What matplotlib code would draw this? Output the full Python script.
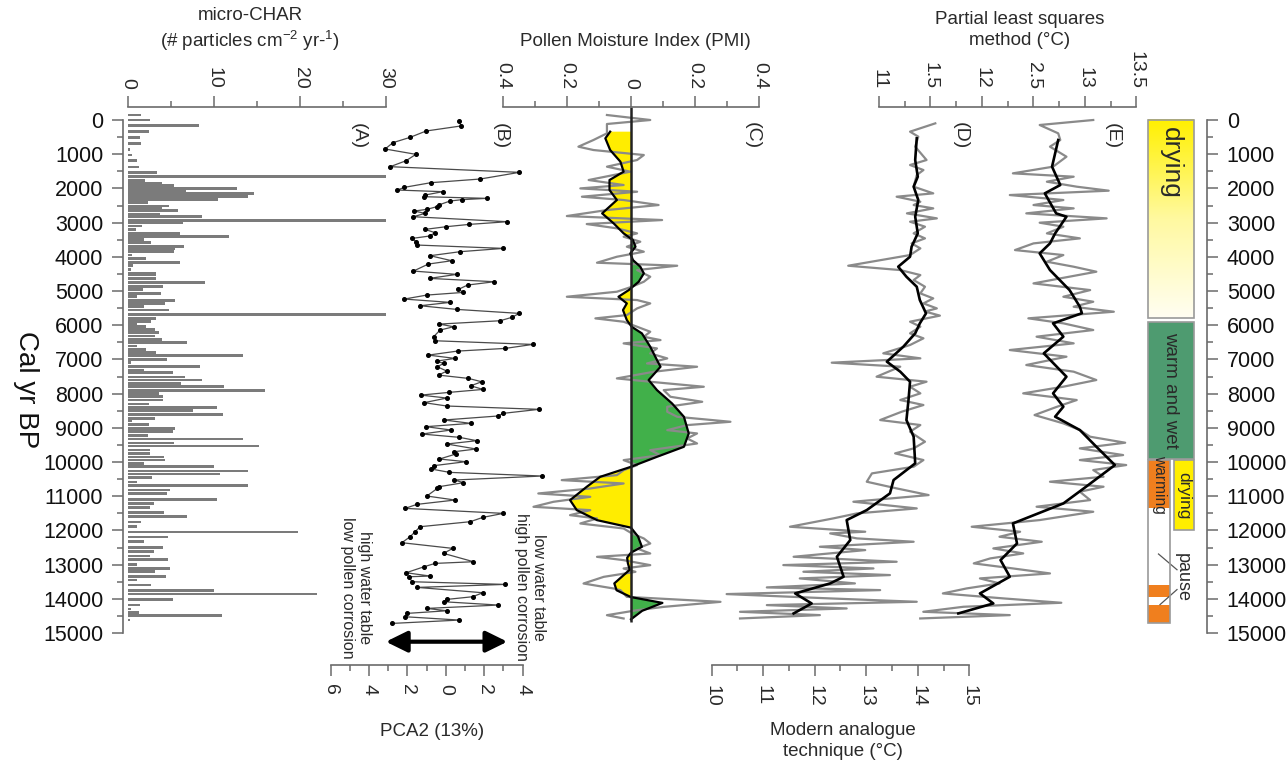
import numpy as np
import matplotlib.pyplot as plt
from matplotlib.colors import LinearSegmentedColormap
from matplotlib.patches import Rectangle, FancyArrowPatch

plt.rcParams['font.family'] = ['Liberation Sans', 'DejaVu Sans']
plt.rcParams['mathtext.fontset'] = 'custom'
plt.rcParams['mathtext.rm'] = 'Liberation Sans'

# ---------------- data (ages in cal yr BP) ----------------
char_age = [-150, 0, 170, 340, 510, 680, 860, 1020, 1190, 1370, 1540, 1660, 1760, 1850, 1920,
            2000, 2080, 2150, 2240, 2320, 2420, 2510, 2580, 2650, 2750, 2830, 2930, 3000, 3100,
            3200, 3320, 3410, 3490, 3590, 3690, 3750, 3850, 3950, 4050, 4160, 4260, 4370, 4470,
            4530, 4630, 4760, 4860, 4950, 5070, 5170, 5270, 5360, 5460, 5560, 5680, 5800, 5890,
            5960, 6040, 6120, 6210, 6320, 6410, 6510, 6610, 6710, 6800, 6880, 7000, 7100, 7210,
            7310, 7390, 7510, 7600, 7700, 7800, 7900, 7990, 8090, 8190, 8300, 8400, 8500, 8610,
            8720, 8800, 8900, 9020, 9110, 9230, 9330, 9440, 9530, 9650, 9750, 9850, 9940, 10040,
            10140, 10260, 10350, 10450, 10580, 10690, 10820, 10920, 11090, 11210, 11330, 11470,
            11600, 11750, 11890, 12050, 12190, 12330, 12500, 12620, 12750, 12850, 12990, 13110,
            13210, 13340, 13450, 13600, 13750, 13860, 14020, 14180, 14300, 14410, 14480, 14620]
char_val = [1.5, 2.6, 8.3, 2.4, 1.4, 1.5, 0.2, 0.5, 1.1, 1.3, 3.4, 30, 2.0, 4.0, 5.3,
            12.7, 6.7, 14.6, 14.0, 10.5, 2.3, 4.8, 4.0, 5.8, 3.7, 8.6, 30, 6.4, 1.6,
            0.9, 6.0, 11.7, 1.8, 2.7, 6.5, 5.5, 5.3, 0.5, 2.1, 6.1, 0.6, 0.3, 3.3,
            3.3, 3.2, 8.9, 4.1, 1.7, 3.8, 1.0, 5.5, 4.3, 1.9, 4.8, 30, 3.3, 2.7,
            1.0, 2.1, 3.1, 3.6, 3.1, 4.0, 6.9, 1.0, 2.1, 3.2, 13.4, 4.5, 0.3, 8.4,
            1.9, 5.2, 6.6, 8.6, 6.2, 11.2, 15.9, 3.6, 4.1, 4.1, 2.4, 10.3, 7.6, 11.0,
            3.1, 0.5, 2.4, 5.5, 5.2, 2.3, 13.4, 5.3, 15.2, 2.5, 2.5, 4.2, 4.3, 1.8,
            10.0, 14.0, 10.7, 2.8, 1.1, 14.0, 4.9, 4.5, 10.3, 3.0, 2.5, 4.2,
            6.9, 1.5, 1.0, 19.8, 4.7, 1.8, 4.1, 3.0, 2.5, 4.7, 1.0, 4.9,
            3.1, 4.4, 1.0, 2.7, 10.0, 22.0, 5.2, 1.4, 0.4, 1.3, 10.9, 0.2]

pca_age = [20, 175, 322, 507, 663, 848, 1004, 1190, 1365, 1531, 1726, 1833, 1970, 2048, 2096,
           2194, 2243, 2291, 2330, 2369, 2486, 2535, 2613, 2662, 2730, 2828, 2974, 3052, 3120,
           3198, 3296, 3393, 3461, 3559, 3656, 3754, 3851, 3968, 4115, 4212, 4417, 4514, 4631,
           4729, 4826, 4953, 5041, 5119, 5236, 5333, 5431, 5538, 5655, 5772, 5870, 5967, 6045,
           6143, 6338, 6455, 6562, 6679, 6757, 6874, 6971, 7049, 7118, 7215, 7342, 7459, 7556,
           7654, 7771, 7878, 7966, 8044, 8130, 8265, 8363, 8460, 8577, 8655, 8772, 8870, 8967,
           9065, 9182, 9279, 9377, 9474, 9620, 9698, 9767, 9913, 9991, 10108, 10205, 10303,
           10410, 10527, 10605, 10722, 10771, 10995, 11112, 11239, 11356, 11502, 11619, 11746,
           11892, 12038, 12184, 12360, 12526, 12672, 12916, 12965, 13062, 13238, 13335, 13355,
           13501, 13579, 13667, 13823, 13940, 14018, 14086, 14183, 14281, 14350, 14427, 14525,
           14622, 14720]
pca_val = [0.71, 0.78, -1.03, -1.86, -2.76, -3.16, -1.56, -2.07, -2.90, 3.83, 1.79, -0.78, -2.17, -2.52, -0.16,
           -1.08, -1.13, 2.13, 0.83, 0.22, -0.38, -0.47, -0.99, -1.65, -1.08, -1.69, 3.21, 1.23, 0.02,
           -1.08, -0.56, -0.85, -1.74, -1.56, -1.51, 3.00, 0.74, -0.82, 0.31, -0.91, -1.69, 0.57, -0.85,
           2.53, 1.13, 0.66, 0.92, -0.99, -2.17, 0.22, -1.34, 0.57, 3.83, 3.43, 2.83, -0.33, 0.40,
           -0.30, -0.64, -0.56, 4.53, 3.09, 0.61, -0.91, 0.48, -0.47, -0.12, -0.44, 0.05, -0.38, 1.18,
           1.87, 1.30, 1.93, 0.14, -1.30, 0.05, -1.13, 0.05, 4.86, 3.00, 2.71, -0.09, 1.30, -1.03,
           0.27, -1.25, 0.71, 1.61, 0.05, 1.58, 0.45, 0.52, -0.33, 1.04, -0.64, -0.76, 0.19,
           5.03, 0.45, 0.92, -0.35, -0.44, -0.99, 0.48, -1.51, -2.12, 3.00, 1.93, 1.27,
           -1.34, -1.60, -1.86, -2.29, 0.36, -0.12, 1.44, -0.56, -1.13, -2.07, -0.82, -1.90,
           -1.77, 3.09, -1.48, 1.93, 1.39, 0.05, -0.12, 2.74, -0.99, 0.05, -2.03, -2.12,
           0.71, -2.81]

pmi_age = [-146, 0, 117, 390, 585, 780, 878, 1024, 1170, 1365, 1511, 1755, 1901, 2000, 2097,
           2243, 2340, 2486, 2633, 2808, 2925, 3042, 3168, 3315, 3413, 3559, 3705, 3851, 3998,
           4173, 4261, 4388, 4583, 4729, 4875, 5021, 5168, 5265, 5363, 5509, 5704, 5801, 5899,
           6045, 6191, 6338, 6435, 6532, 6679, 6825, 6971, 7118, 7215, 7361, 7556, 7654, 7800,
           7898, 8093, 8239, 8385, 8532, 8678, 8824, 8921, 9068, 9165, 9311, 9458, 9653, 9799,
           9945, 10091, 10238, 10384, 10530, 10628, 10774, 10920, 11018, 11164, 11310, 11408,
           11554, 11651, 11798, 11944, 12090, 12236, 12383, 12529, 12675, 12773, 12870, 13016,
           13114, 13211, 13358, 13553, 13699, 13748, 13943, 14089, 14236, 14333, 14479, 14576]
pmi_val = [-0.075, 0.060, -0.075, -0.075, -0.117, -0.164, -0.117, 0.040, 0.019, -0.075, -0.002, -0.132, -0.023, -0.158, 0.019,
           -0.153, -0.023, 0.086, -0.075, -0.200, 0.097, -0.138, -0.044, 0.019, -0.023, 0.029, -0.013, 0.040, -0.044,
           -0.106, 0.144, 0.019, 0.060, 0.040, 0.003, -0.044, -0.200, 0.019, 0.060, 0.019, -0.013, -0.111, -0.023,
           0.019, 0.060, 0.040, 0.092, -0.023, 0.081, 0.060, 0.113, 0.050, 0.206, 0.071, -0.044, 0.060, 0.227,
           0.102, 0.123, 0.222, 0.113, 0.113, 0.144, 0.310, 0.175, 0.113, 0.206, 0.175, 0.206, 0.060, 0.092,
           -0.023, 0.019, -0.023, -0.044, -0.216, -0.023, -0.127, -0.289, -0.127, -0.242, -0.304, -0.127,
           -0.190, -0.106, -0.158, -0.023, 0.003, 0.040, 0.060, 0.019, 0.060, -0.106, -0.023, 0.060,
           -0.023, 0.014, -0.085, -0.148, -0.054, -0.033, -0.013, 0.279, 0.102, 0.019, -0.075, -0.023]

pmi_sm_age = [341, 536, 878, 1219, 1511, 1755, 2048, 2340, 2730, 3023, 3315, 3510, 3705, 3900, 4095,
              4290, 4485, 4729, 4973, 5168, 5363, 5558, 5850, 6045, 6240, 6630, 7020, 7215, 7605,
              7898, 8288, 8678, 9165, 9555, 9848, 10140, 10433, 10725, 11115, 11408, 11700, 11920,
              12180, 12480, 12650, 12800, 12950, 13150, 13300, 13550, 13750, 13950, 14120, 14350, 14600]
pmi_sm_val = [-0.065, -0.080, -0.065, -0.033, -0.023, -0.067, -0.067, -0.044, -0.090, -0.054, -0.023, 0.006, 0.014, -0.002, 0.006,
              0.029, 0.040, 0.024, -0.007, -0.039, -0.013, -0.025, -0.013, 0.002, 0.034, 0.060, 0.081, 0.092, 0.055,
              0.081, 0.128, 0.165, 0.180, 0.165, 0.081, 0.0, -0.096, -0.138, -0.190, -0.169, -0.106, 0.0,
              0.022, 0.034, 0.0, -0.012, -0.010, -0.004, -0.022, -0.052, -0.045, 0.0, 0.098, 0.035, 0.0]

mat_age = [98, 341, 487, 780, 1170, 1316, 1463, 1609, 1950, 2145, 2243, 2389, 2486, 2584, 2730,
           2876, 2974, 3120, 3315, 3461, 3608, 3754, 3949, 4261, 4388, 4534, 4680, 4875, 5070,
           5216, 5363, 5509, 5600, 5720, 5897, 6043, 6238, 6384, 6579, 6823, 6969, 7096, 7213,
           7506, 7652, 7798, 7993, 8188, 8334, 8529, 8773, 8919, 9114, 9407, 9602, 9748, 9943,
           10138, 10333, 10577, 10772, 10967, 11162, 11357, 11503, 11649, 11893, 12039, 12088,
           12234, 12332, 12478, 12576, 12771, 12917, 13014, 13112, 13209, 13306, 13404, 13550,
           13667, 13746, 13862, 13989, 14087, 14184, 14282, 14380, 14477, 14575]
mat_val = [14.34, 13.85, 14.01, 13.95, 14.17, 13.85, 14.11, 13.98, 13.92, 14.30, 13.59, 14.05, 13.92, 14.30, 13.79,
           14.37, 13.85, 14.14, 13.92, 14.14, 13.88, 14.05, 13.85, 12.65, 13.66, 14.05, 13.92, 14.14, 14.05,
           14.30, 14.11, 14.37, 14.14, 14.43, 13.85, 14.05, 13.85, 14.11, 13.85, 13.33, 14.05, 12.33, 13.66,
           13.20, 14.17, 13.85, 14.05, 13.66, 14.11, 13.69, 13.27, 14.05, 13.85, 14.14, 13.92, 13.56, 14.11,
           13.92, 13.11, 13.01, 13.59, 14.21, 12.75, 13.98, 12.82, 12.36, 11.52, 12.98, 12.30,
           12.82, 13.92, 12.10, 12.98, 11.59, 13.59, 11.39, 13.14, 11.78, 13.46, 11.71, 12.78,
           11.07, 13.27, 10.29, 12.30, 13.98, 11.07, 12.62, 10.55, 12.10, 10.55]
mat_sm_age = [536, 1170, 1658, 1950, 2340, 2828, 3315, 3705, 3998, 4290, 4583, 4875, 5265, 5653, 5946,
              6238, 6628, 7067, 7359, 7652, 8188, 8773, 9260, 10040, 10528, 10918, 11406, 11698, 12283,
              12770, 13355, 13550, 13843, 14136, 14428]
mat_sm_val = [13.98, 13.95, 14.00, 13.92, 14.01, 13.95, 14.00, 13.88, 13.85, 13.62, 13.78, 13.98, 14.04, 14.16, 14.04,
              13.95, 13.72, 13.40, 13.66, 13.85, 13.82, 13.78, 13.92, 13.95, 13.53, 13.46, 13.01, 12.62, 12.69,
              12.43, 12.56, 12.30, 11.62, 11.94, 11.59]

pls_age = [0, 146, 390, 585, 780, 1073, 1365, 1560, 1658, 1804, 1950, 2067, 2194, 2340, 2486, 2584,
           2730, 2876, 3003, 3120, 3315, 3461, 3608, 3803, 3949, 4144, 4290, 4436, 4631, 4778, 4973,
           5168, 5314, 5460, 5606, 5799, 5946, 6141, 6336, 6531, 6726, 6921, 7164, 7359, 7603, 7798,
           7993, 8188, 8383, 8627, 8871, 9066, 9261, 9436, 9602, 9797, 9943, 10089, 10236, 10431,
           10577, 10723, 10869, 11113, 11308, 11455, 11698, 11893, 12039, 12186, 12332, 12527, 12673,
           12819, 12965, 13112, 13258, 13404, 13550, 13697, 13843, 13989, 14116, 14233, 14380, 14477, 14575]
pls_val = [13.08, 12.56, 12.74, 12.76, 12.66, 12.82, 12.69, 12.30, 12.89, 12.63, 12.92, 13.23, 12.27, 12.79, 12.50, 12.89,
           12.43, 13.21, 12.56, 12.79, 12.63, 12.95, 12.50, 12.32, 12.79, 12.63, 12.89, 13.11, 12.76, 12.50, 13.05,
           12.79, 13.08, 12.89, 13.28, 12.45, 12.79, 13.08, 12.53, 12.89, 12.27, 12.82, 12.43, 12.89, 13.11, 12.79,
           12.40, 12.92, 12.73, 12.51, 12.79, 12.95, 13.05, 13.39, 12.95, 13.37, 12.95, 13.40, 13.08, 13.18,
           12.66, 13.18, 12.95, 13.05, 12.53, 13.08, 12.56, 11.90, 12.37, 12.17, 12.58, 12.11, 12.40,
           12.08, 11.92, 12.30, 12.66, 11.98, 12.17, 11.85, 11.62, 12.21, 12.77, 11.82, 11.43, 12.27, 11.40]
pls_sm_age = [585, 1365, 1901, 2145, 2730, 2828, 3315, 3608, 3900, 4388, 4973, 5460, 5650, 5946, 6335,
              6823, 7506, 7993, 8383, 8675, 9065, 9553, 10089, 10723, 11211, 11796, 12381, 12868, 13355,
              13843, 14136, 14428]
pls_sm_val = [12.74, 12.68, 12.76, 12.61, 12.72, 12.82, 12.71, 12.66, 12.56, 12.66, 12.85, 12.95, 12.97, 12.69, 12.79,
              12.60, 12.82, 12.69, 12.79, 12.71, 12.95, 13.11, 13.29, 13.01, 12.79, 12.30, 12.34, 12.18, 12.27,
              11.98, 12.11, 11.77]

# climate phases (right-hand column)
zone_label = ['drying', 'warm and wet']
zone_start = [0, 5900]
zone_end = [5800, 9900]
warming_start = [9950, 13600, 14180]
warming_end = [11350, 13950, 14700]
late_drying = (9950, 12000)

# ---------------- layout (pixels of a 1288 x 765 canvas) ----------------
W, H = 1288, 765
Y_TOP, Y_BOT = 107, 664.5
PX_PER_KYR = 34.2
AGE0_PX = 120
AGE_TOP = (Y_TOP - AGE0_PX) / PX_PER_KYR * 1000
AGE_BOT = (Y_BOT - AGE0_PX) / PX_PER_KYR * 1000
AX_C = '#6b6b6b'
TXT = '#2a2a2a'

fig = plt.figure(figsize=(W / 100, H / 100), dpi=100)


def make_ax(left, right):
    ax = fig.add_axes([left / W, 1 - Y_BOT / H, (right - left) / W, (Y_BOT - Y_TOP) / H])
    ax.set_ylim(AGE_BOT, AGE_TOP)
    ax.patch.set_visible(False)
    for s in ax.spines.values():
        s.set_visible(False)
    ax.set_xticks([])
    ax.set_yticks([])
    return ax


def x_axis(ax, side, bounds, major, labels, minor):
    sp = ax.spines[side]
    sp.set_visible(True)
    sp.set_bounds(*bounds)
    sp.set_color(AX_C)
    sp.set_linewidth(1.2)
    ax.xaxis.set_ticks_position(side)
    ax.set_xticks(major)
    ax.set_xticklabels(labels, rotation=-90)
    ax.set_xticks(minor, minor=True)
    ax.tick_params(axis='x', which='major', direction='out', length=8, width=1.1,
                   color=AX_C, pad=5, labelsize=14, labelcolor=TXT)
    ax.tick_params(axis='x', which='minor', direction='out', length=4.5, width=1.1, color=AX_C)


def age_axis(ax, side):
    sp = ax.spines[side]
    sp.set_visible(True)
    sp.set_bounds(0, 15000)
    sp.set_color(AX_C)
    sp.set_linewidth(1.2)
    ax.yaxis.set_ticks_position(side)
    ax.set_yticks(range(0, 15001, 1000))
    ax.set_yticks(range(500, 15000, 1000), minor=True)
    ax.tick_params(axis='y', which='major', direction='out', length=8, width=1.1,
                   color=AX_C, pad=6, labelsize=15.5, labelcolor='#111')
    ax.tick_params(axis='y', which='minor', direction='out', length=4.5, width=1.1, color=AX_C)
    ax.set_ylim(AGE_BOT, AGE_TOP)


def ftext(x, y, s, **kw):
    kw.setdefault('ha', 'center')
    kw.setdefault('va', 'center')
    kw.setdefault('color', TXT)
    fig.text(x / W, 1 - y / H, s, **kw)


# ---- (A) micro-charcoal ----
axA = make_ax(122.7, 386)
axA.set_xlim(-0.62, 30)
axA.barh(char_age, char_val, height=78, color='#7b7b7b', linewidth=0)
x_axis(axA, 'top', (0, 30), [0, 10, 20, 30], ['0', '10', '20', '30'], [5, 15, 25])
age_axis(axA, 'left')

# ---- (B) PCA2 ----
axB = make_ax(330.7, 560)
axB.set_xlim(-6, 5.95)
axB.plot(pca_val, pca_age, color='#4a4a4a', lw=0.9, marker='o', ms=2.6,
         mfc='black', mec='black', clip_on=False)
x_axis(axB, 'bottom', (-6, 4), [-6, -4, -2, 0, 2, 4], ['6', '4', '2', '0', '2', '4'],
       [-5, -3, -1, 1, 3])
axB.tick_params(axis='x', which='major', pad=6)
arrow_age = (641.7 - AGE0_PX) / PX_PER_KYR * 1000
axB.add_patch(FancyArrowPatch((-3.27, arrow_age), (3.35, arrow_age),
                              arrowstyle='<|-|>,head_length=0.65,head_width=0.32',
                              mutation_scale=20, lw=3, color='black', clip_on=False))

# ---- (C) PMI ----
axC = make_ax(502.7, 759.3)
axC.set_xlim(-0.4, 0.4)
sm_a = np.array(pmi_sm_age)
sm_v = np.array(pmi_sm_val)
axC.fill_betweenx(sm_a, sm_v, 0, where=sm_v <= 0, interpolate=True, color='#FFED00', lw=0)
axC.fill_betweenx(sm_a, sm_v, 0, where=sm_v >= 0, interpolate=True, color='#41B04A', lw=0)
axC.plot(pmi_val, pmi_age, color='#8a8a8a', lw=1.6)
axC.plot(pmi_sm_val, pmi_sm_age, color='black', lw=1.6)
axC.vlines(0, AGE_TOP, 14680, color='#222', lw=1.8)
x_axis(axC, 'top', (-0.4, 0.4), [-0.4, -0.2, 0, 0.2, 0.4], ['0.4', '0.2', '0', '0.2', '0.4'],
       [-0.3, -0.1, 0.1, 0.3])

# ---- (D) MAT ----
axD = make_ax(690, 1000)
axD.set_xlim(9.579, 15.596)
axD.plot(mat_val, mat_age, color='#8a8a8a', lw=1.6)
axD.plot(mat_sm_val, mat_sm_age, color='black', lw=1.9)
x_axis(axD, 'bottom', (10, 15), [10, 11, 12, 13, 14, 15], ['10', '11', '12', '13', '14', '15'],
       [10.5, 11.5, 12.5, 13.5, 14.5])
axD.tick_params(axis='x', which='major', pad=7)

# ---- (E) PLS ----
axE = make_ax(879, 1140)
axE.set_xlim(11, 13.534)
axE.plot(pls_val, pls_age, color='#8a8a8a', lw=1.6)
axE.plot(pls_sm_val, pls_sm_age, color='black', lw=1.9)
x_axis(axE, 'top', (11, 13.5), [11, 11.5, 12, 12.5, 13, 13.5], ['11', '1.5', '12', '2.5', '13', '13.5'],
       [11.25, 11.75, 12.25, 12.75, 13.25])

# ---- climate phase column ----
axR = make_ax(1140, 1207.4)
grad = LinearSegmentedColormap.from_list('dry', ['#FFF000', '#FFF9A0', '#FFFEF2'])
axR.imshow(np.linspace(0, 1, 256).reshape(-1, 1), cmap=grad, aspect='auto',
           extent=[1148, 1194, zone_end[0], zone_start[0]], zorder=1)
axR.add_patch(Rectangle((1148, zone_start[0]), 46, zone_end[0] - zone_start[0],
                        fill=False, ec='#9a9a9a', lw=1.2, zorder=2))
axR.add_patch(Rectangle((1148, zone_start[1]), 46, zone_end[1] - zone_start[1],
                        fc='#4E9B70', ec='#9a9a9a', lw=1.2, zorder=2))
for s, e in zip(warming_start, warming_end):
    axR.add_patch(Rectangle((1148, s), 22, e - s, fc='#F07F1E', ec='none', zorder=2))
axR.add_patch(Rectangle((1148, warming_start[0]), 22, warming_end[-1] - warming_start[0],
                        fill=False, ec='#9a9a9a', lw=1.2, zorder=3))
axR.add_patch(Rectangle((1174, late_drying[0]), 20, late_drying[1] - late_drying[0],
                        fc='#FFEE00', ec='#9a9a9a', lw=1.2, zorder=2))
axR.text(1171, 1250, zone_label[0], rotation=-90, ha='center', va='center', fontsize=19, color=TXT)
axR.text(1171, (zone_start[1] + zone_end[1]) / 2, zone_label[1], rotation=-90, ha='center',
         va='center', fontsize=13.5, color=TXT)
axR.text(1159.5, (warming_start[0] + warming_end[0]) / 2, 'warming', rotation=-90, ha='center',
         va='center', fontsize=11.2, color=TXT)
axR.text(1184, (late_drying[0] + late_drying[1]) / 2, 'drying', rotation=-90, ha='center',
         va='center', fontsize=12.5, color=TXT)
axR.text(1182, 13380, 'pause', rotation=-90, ha='center', va='center', fontsize=13, color=TXT)
axR.plot([1177, 1158.5], [13150, 12690], color='#555', lw=0.9)
axR.plot([1177, 1160], [13730, 14170], color='#555', lw=0.9)
axR.set_xlim(1140, 1207.4)
age_axis(axR, 'right')

# ---- titles and labels ----
ftext(250, 30, 'micro-CHAR\n(# particles cm$^{-2}$ yr-$^{1}$)', fontsize=13.5, linespacing=1.25)
ftext(635, 42, 'Pollen Moisture Index (PMI)', fontsize=13.5)
ftext(1020, 30, 'Partial least squares\nmethod (°C)', fontsize=13.5, linespacing=1.25)
ftext(432, 732, 'PCA2 (13%)', fontsize=13.5)
ftext(843, 741, 'Modern analogue\ntechnique (°C)', fontsize=13.5, linespacing=1.25)
ftext(26, 390, 'Cal yr BP', rotation=-90, fontsize=20, color='#111')

for xp, lab in zip([358, 500, 752, 960, 1112], ['(A)', '(B)', '(C)', '(D)', '(E)']):
    ftext(xp, 136, lab, rotation=-90, fontsize=14)

ftext(530, 587, 'low water table\nhigh pollen corrosion', rotation=-90, fontsize=11.5,
      multialignment='center', linespacing=1.1)
ftext(356, 588, 'high water table\nlow pollen corrosion', rotation=-90, fontsize=11.5,
      multialignment='center', linespacing=1.1)

fig.savefig('out.png', dpi=100)
